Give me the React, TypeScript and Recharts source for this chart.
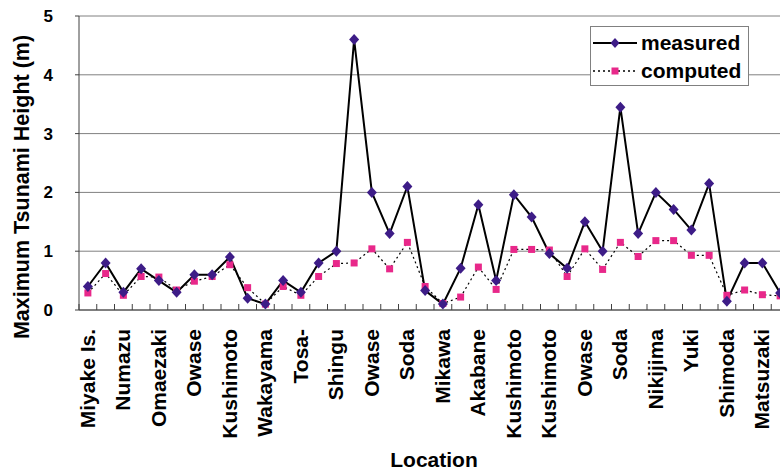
import React from 'react';
import { LineChart, Line, XAxis, YAxis, CartesianGrid, Legend } from 'recharts';

// labels are printed on every other location only
const tickLabels = [
  'Miyake Is.', 'Numazu', 'Omaezaki', 'Owase', 'Kushimoto', 'Wakayama', 'Tosa-', 'Shingu', 'Owase', 'Soda',
  'Mikawa', 'Akabane', 'Kushimoto', 'Kushimoto', 'Owase', 'Soda', 'Nikijima', 'Yuki', 'Shimoda', 'Matsuzaki',
];

const measured = [
  0.4, 0.8, 0.3, 0.7, 0.5, 0.3, 0.6, 0.6, 0.9, 0.2,
  0.1, 0.5, 0.3, 0.8, 1.0, 4.6, 2.0, 1.3, 2.1, 0.33,
  0.1, 0.71, 1.79, 0.5, 1.96, 1.58, 0.96, 0.71, 1.5, 1.0,
  3.45, 1.3, 2.0, 1.71, 1.36, 2.15, 0.15, 0.8, 0.8, 0.29,
];

const computed = [
  0.29, 0.62, 0.25, 0.57, 0.56, 0.34, 0.49, 0.57, 0.77, 0.38,
  0.1, 0.4, 0.25, 0.57, 0.79, 0.8, 1.04, 0.7, 1.15, 0.4,
  0.11, 0.22, 0.73, 0.35, 1.03, 1.03, 1.02, 0.57, 1.04, 0.69,
  1.15, 0.91, 1.18, 1.18, 0.93, 0.93, 0.25, 0.34, 0.26, 0.24,
];

const yTicks = [0, 1, 2, 3, 4, 5];

const FONT = '"Liberation Sans", Arial, Helvetica, sans-serif';
const PURPLE = '#3d1c87';
const PINK = '#e8288a';
const AXIS = '#404040';

const n = measured.length;
const data = measured.map((m, i) => ({ pos: i + 0.5, measured: m, computed: computed[i] }));

// tick lines sit on category boundaries, labels on even category centres
const xTicks: number[] = [];
for (let i = 0; i <= n; i++) {
  xTicks.push(i);
  if (i < n && i % 2 === 0) xTicks.push(i + 0.5);
}

const XTick = ({ x, y, payload }: any) => {
  const v = payload.value;
  if (Number.isInteger(v)) {
    return <line x1={x} x2={x} y1={y - 6} y2={y} stroke={AXIS} strokeWidth={1} />;
  }
  const label = tickLabels[Math.floor(v) / 2];
  return (
    <text
      transform={`translate(${x + 7},${y + 19}) rotate(-90)`}
      textAnchor="end"
      fontFamily={FONT}
      fontWeight="bold"
      fontSize={21}
      fill="#000"
    >
      {label}
    </text>
  );
};

const Diamond = ({ cx, cy, index }: any) => (
  <path key={`d-${index}`} d={`M${cx},${cy - 5.5}L${cx + 5},${cy}L${cx},${cy + 5.5}L${cx - 5},${cy}Z`} fill={PURPLE} />
);

const Square = ({ cx, cy, index }: any) => (
  <rect key={`s-${index}`} x={cx - 3.5} y={cy - 3.5} width={7} height={7} fill={PINK} />
);

const LegendBox = () => (
  <div
    style={{
      boxSizing: 'border-box',
      width: 159,
      height: 60,
      border: '1px solid #808080',
      background: '#fff',
      paddingTop: 2,
      fontFamily: FONT,
      fontWeight: 'bold',
      fontSize: 21,
      color: '#000',
    }}
  >
    <div style={{ display: 'flex', alignItems: 'center', height: 28 }}>
      <svg width={47} height={16} style={{ marginLeft: 1 }}>
        <line x1={1} x2={45} y1={8} y2={8} stroke="#000" strokeWidth={2} />
        <path d="M23,3L27.5,8L23,13L18.5,8Z" fill={PURPLE} />
      </svg>
      <span style={{ marginLeft: 2 }}>measured</span>
    </div>
    <div style={{ display: 'flex', alignItems: 'center', height: 28 }}>
      <svg width={47} height={16} style={{ marginLeft: 1 }}>
        <line x1={1} x2={45} y1={8} y2={8} stroke="#000" strokeWidth={1.5} strokeDasharray="2 3" />
        <rect x={19.5} y={4.5} width={7} height={7} fill={PINK} />
      </svg>
      <span style={{ marginLeft: 2 }}>computed</span>
    </div>
  </div>
);

const YTitle = ({ viewBox }: any) => {
  const { x, y, height } = viewBox;
  return (
    <text
      transform={`translate(${x + 29},${y + height / 2 + 24}) rotate(-90)`}
      textAnchor="middle"
      fontFamily={FONT}
      fontWeight="bold"
      fontSize={21.5}
      fill="#000"
    >
      Maximum Tsunami Height (m)
    </text>
  );
};

export default function App() {
  return (
    <div style={{ position: 'fixed', left: 0, top: 0, width: 780, height: 474, overflow: 'hidden', background: '#fff' }}>
      <LineChart width={800} height={474} data={data} margin={{ top: 16, right: 11, left: 0, bottom: 0 }}>
        <CartesianGrid vertical={false} stroke="#808080" />
        <XAxis
          dataKey="pos"
          type="number"
          domain={[0, n]}
          ticks={xTicks}
          interval={0}
          allowDataOverflow
          height={164}
          tickSize={0}
          tickMargin={0}
          tickLine={false}
          tick={<XTick />}
          axisLine={{ stroke: AXIS }}
          label={{
            value: 'Location',
            position: 'insideBottom',
            offset: 7,
            style: { fontFamily: FONT, fontWeight: 'bold', fontSize: 21, fill: '#000' },
          }}
        />
        <YAxis
          width={79}
          domain={[0, 5]}
          ticks={yTicks}
          interval={0}
          tickSize={4}
          tickMargin={22}
          axisLine={{ stroke: AXIS }}
          tickLine={{ stroke: AXIS }}
          tick={{ fontFamily: FONT, fontWeight: 'bold', fontSize: 17, fill: '#000' }}
          label={<YTitle />}
        />
        <Legend
          layout="vertical"
          align="center"
          verticalAlign="middle"
          content={<LegendBox />}
          wrapperStyle={{ left: 590, top: 26, width: 159, height: 60 }}
        />
        <Line
          dataKey="computed"
          name="computed"
          stroke="#000"
          strokeWidth={1.2}
          strokeDasharray="2 3"
          dot={<Square />}
          activeDot={false}
          isAnimationActive={false}
        />
        <Line
          dataKey="measured"
          name="measured"
          stroke="#000"
          strokeWidth={2}
          dot={<Diamond />}
          activeDot={false}
          isAnimationActive={false}
        />
      </LineChart>
    </div>
  );
}
